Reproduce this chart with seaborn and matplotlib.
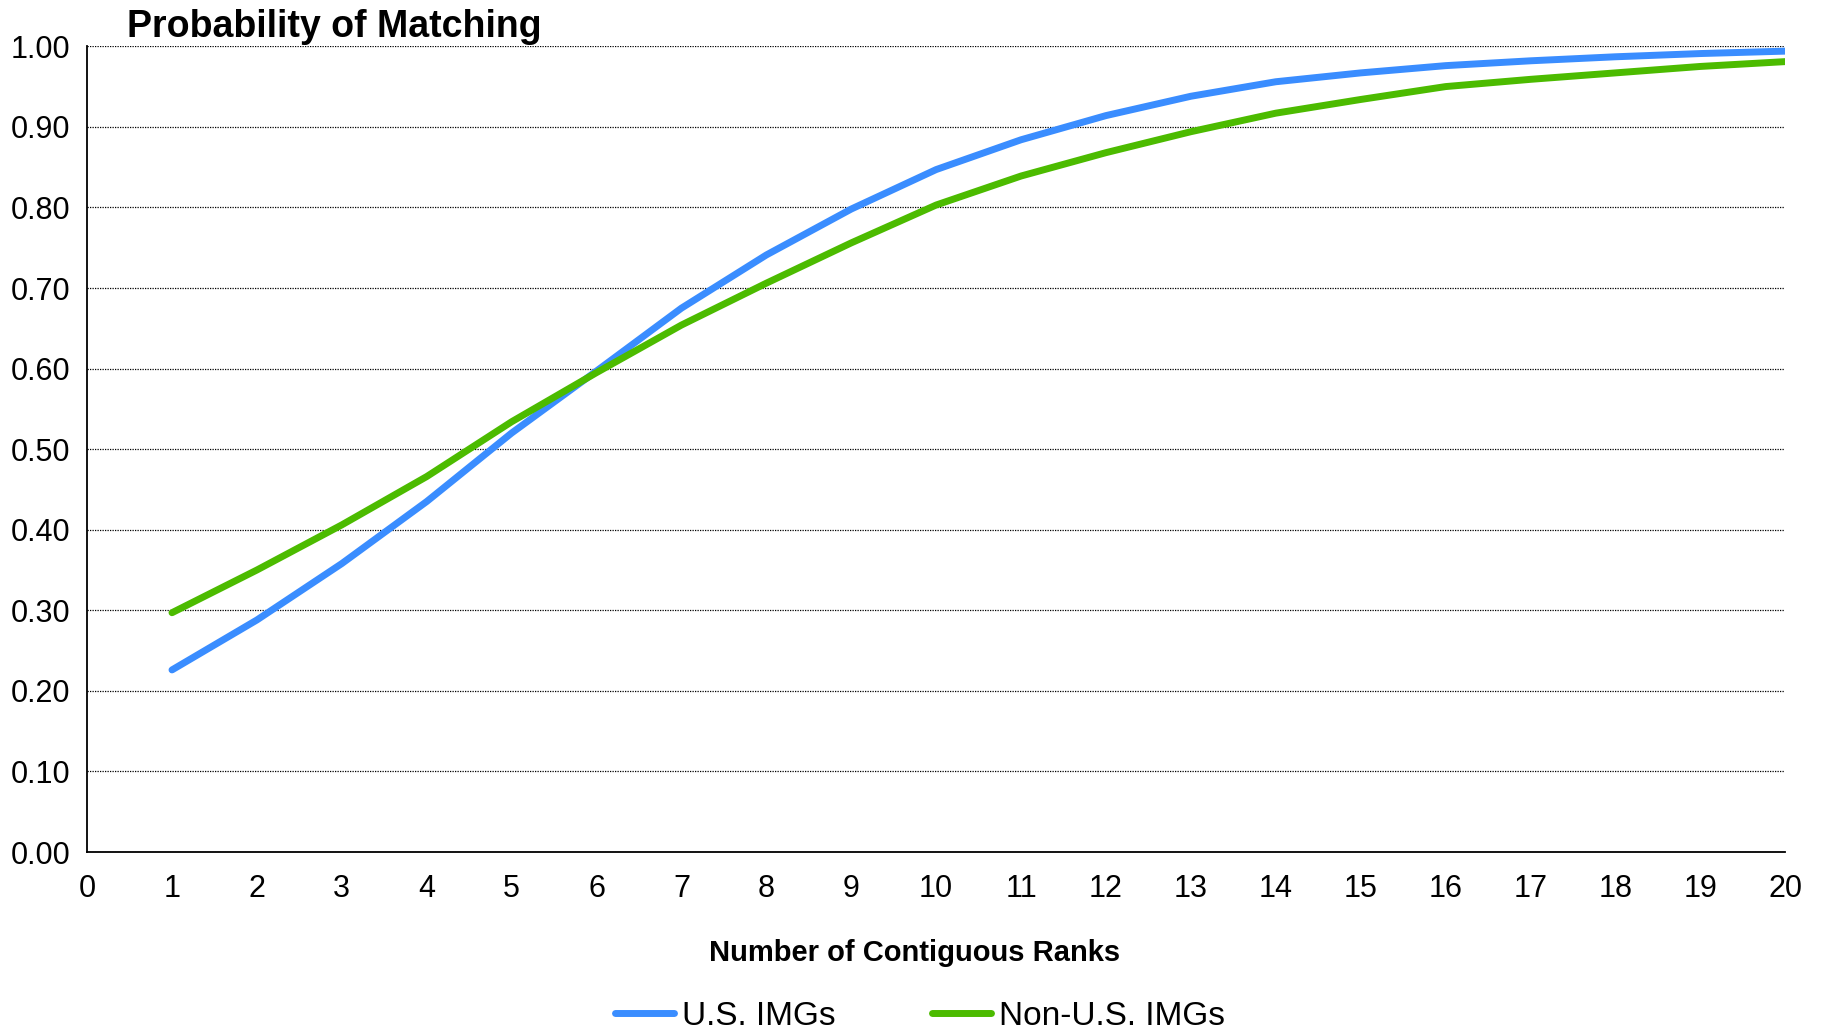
import pandas as pd
import matplotlib.pyplot as plt
import seaborn as sns

# number of contiguous ranks
ranks = list(range(1, 21))

# probability of matching for each group
us_imgs = [0.226, 0.288, 0.358, 0.435, 0.520, 0.597, 0.675, 0.741, 0.798, 0.847,
           0.884, 0.914, 0.938, 0.956, 0.967, 0.976, 0.982, 0.987, 0.991, 0.994]
non_us_imgs = [0.297, 0.350, 0.406, 0.466, 0.534, 0.595, 0.654, 0.706, 0.756, 0.803,
               0.839, 0.868, 0.894, 0.917, 0.934, 0.950, 0.959, 0.967, 0.975, 0.981]

series_names = ["U.S. IMGs", "Non-U.S. IMGs"]
colors = ["#3a8dff", "#4cbb00"]

df = pd.concat([
    pd.DataFrame({"rank": ranks, "prob": us_imgs, "group": series_names[0]}),
    pd.DataFrame({"rank": ranks, "prob": non_us_imgs, "group": series_names[1]}),
])

sns.set_style("white")
plt.rcParams["font.family"] = ["Liberation Sans", "DejaVu Sans"]
plt.rcParams["text.color"] = "black"
plt.rcParams["axes.labelcolor"] = "black"
plt.rcParams["xtick.color"] = "black"
plt.rcParams["ytick.color"] = "black"

fig = plt.figure(figsize=(18.22, 10.29), dpi=100)
ax = fig.add_axes([0.0478, 0.172, 0.932, 0.783])

sns.lineplot(data=df, x="rank", y="prob", hue="group", palette=colors,
             linewidth=5, ax=ax, legend=False, solid_capstyle="round")

ax.set_xlim(0, 20)
ax.set_ylim(0, 1)
ax.set_xticks(range(0, 21))
ax.set_yticks([i / 10 for i in range(11)])
ax.set_yticklabels([f"{i / 10:.2f}" for i in range(11)])
ax.tick_params(axis="both", labelsize=22, length=0)
ax.tick_params(axis="y", pad=12)
ax.tick_params(axis="x", pad=16)

# dotted horizontal gridlines
ax.yaxis.grid(True, linestyle=(0, (1, 1)), color="black", linewidth=0.9)
ax.xaxis.grid(False)
ax.set_axisbelow(True)

for side in ["top", "right"]:
    ax.spines[side].set_visible(False)
for side in ["left", "bottom"]:
    ax.spines[side].set_color("black")
    ax.spines[side].set_linewidth(1.3)

ax.set_xlabel("")
ax.set_ylabel("")

fig.text(0.502, 0.074, "Number of Contiguous Ranks", fontsize=21, fontweight="bold",
         ha="center", va="center")
fig.text(0.0695, 0.964, "Probability of Matching", fontsize=27, fontweight="bold",
         ha="left", va="baseline")

handles = [plt.Line2D([], [], color=c, linewidth=5, solid_capstyle="round") for c in colors]
fig.legend(handles, series_names, loc="center", bbox_to_anchor=(0.505, 0.012),
           ncol=2, frameon=False, fontsize=24, handlelength=1.75, handletextpad=0.25,
           columnspacing=2.9)

fig.savefig("out.png", dpi=100)
